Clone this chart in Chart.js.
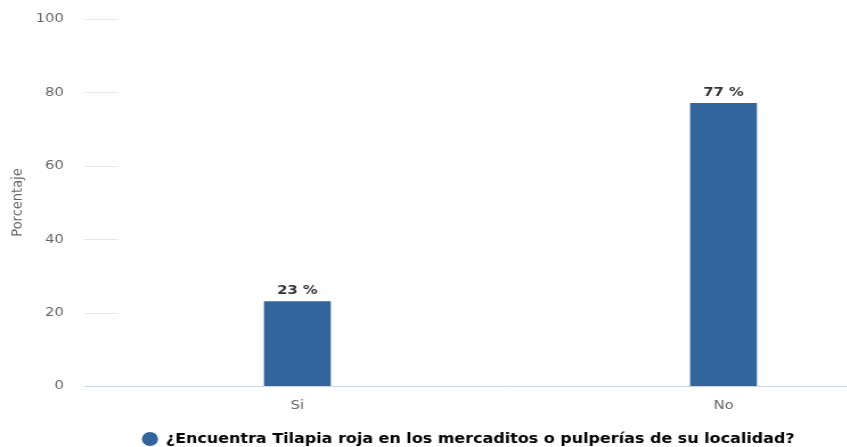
<!DOCTYPE html>
<html>
<head>
<meta charset="utf-8">
<script src="https://cdn.jsdelivr.net/npm/chart.js@4/dist/chart.umd.min.js"></script>
<style>
  html, body { margin: 0; padding: 0; background: #ffffff; overflow: hidden; }
  #wrap { width: 832px; height: 447px; transform: scaleX(1.1394); transform-origin: 0 0; }
</style>
</head>
<body>
<div id="wrap"><canvas id="c" width="832" height="447"></canvas></div>
<script>
const categories = ['Si', 'No'];
const percentages = [23, 77];
const seriesName = '¿Encuentra Tilapia roja en los mercaditos o pulperías de su localidad?';
const yTicks = [0, 20, 40, 60, 80, 100];

const FONT = 'DejaVu Sans';
const BAR = '#31659c';

// short grid marks beside the value axis
const shortGrid = {
  id: 'shortGrid',
  beforeDatasetsDraw(chart) {
    const { ctx, chartArea, scales } = chart;
    ctx.save();
    ctx.strokeStyle = '#e6e6e6';
    ctx.lineWidth = 1;
    yTicks.forEach(v => {
      if (v === 0) return;
      const y = Math.round(scales.y.getPixelForValue(v)) + 0.5;
      ctx.beginPath();
      ctx.moveTo(chartArea.left, y);
      ctx.lineTo(chartArea.left + 30, y);
      ctx.stroke();
    });
    ctx.restore();
  }
};

// percentage labels above each bar
const barLabels = {
  id: 'barLabels',
  afterDatasetsDraw(chart) {
    const { ctx } = chart;
    const meta = chart.getDatasetMeta(0);
    ctx.save();
    ctx.font = 'bold 13px "' + FONT + '"';
    ctx.fillStyle = '#333333';
    ctx.textAlign = 'center';
    ctx.textBaseline = 'bottom';
    meta.data.forEach((bar, i) => {
      ctx.fillText(percentages[i] + ' %', bar.x, bar.y - 4);
    });
    ctx.restore();
  }
};

new Chart(document.getElementById('c'), {
  type: 'bar',
  data: {
    labels: categories,
    datasets: [{
      label: seriesName,
      data: percentages,
      backgroundColor: BAR,
      borderWidth: 0,
      barThickness: 58
    }]
  },
  options: {
    responsive: false,
    animation: false,
    layout: { padding: { top: 19, right: 10, left: 0, bottom: -9 } },
    plugins: {
      tooltip: { enabled: false },
      legend: {
        position: 'bottom',
        labels: {
          usePointStyle: true,
          pointStyle: 'circle',
          boxWidth: 14,
          boxHeight: 10,
          padding: 1,
          color: '#000000',
          font: { family: FONT, size: 14, weight: 'bold' }
        }
      }
    },
    scales: {
      x: {
        grid: { display: false, drawTicks: false },
        border: { display: true, color: '#ccd6eb', width: 1 },
        ticks: { color: '#666666', padding: 12, font: { family: FONT, size: 13 } },
        afterFit(s) { s.height = 45; }
      },
      y: {
        min: 0, max: 100,
        grid: { display: false, drawTicks: false },
        border: { display: false },
        afterBuildTicks(s) { s.ticks = yTicks.map(v => ({ value: v })); },
        ticks: { color: '#666666', padding: 18, font: { family: FONT, size: 13 } },
        title: { display: true, text: 'Porcentaje', color: '#666666', padding: { top: 8, bottom: 0 }, font: { family: FONT, size: 13 } },
        afterFit(s) { s.width = 74; s.paddingTop = 0; s.paddingBottom = 0; }
      }
    }
  },
  plugins: [shortGrid, barLabels]
});
</script>
</body>
</html>
